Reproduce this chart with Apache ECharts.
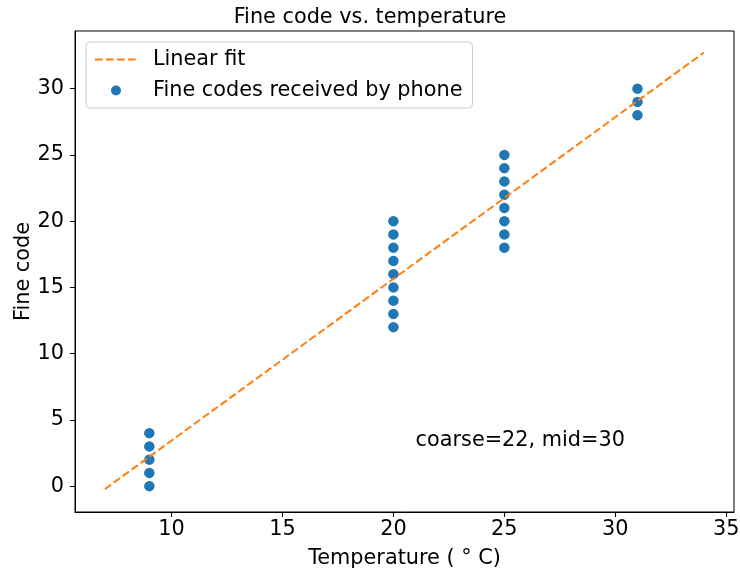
<!DOCTYPE html>
<html>
<head>
<meta charset="utf-8">
<script src="https://cdn.jsdelivr.net/npm/echarts@6/dist/echarts.min.js"></script>
<style>
html,body{margin:0;padding:0;background:#fff;}
#c{width:740px;height:569px;}
</style>
</head>
<body>
<div id="c"></div>
<script>
// Data
const temperatures = [9, 9, 9, 9, 9,
  20, 20, 20, 20, 20, 20, 20, 20, 20,
  25, 25, 25, 25, 25, 25, 25, 25,
  31, 31, 31];
const fineCodes = [0, 1, 2, 3, 4,
  12, 13, 14, 15, 16, 17, 18, 19, 20,
  18, 19, 20, 21, 22, 23, 24, 25,
  28, 29, 30];
const fitX = [7, 34];
const fitY = [-0.22, 32.73];
const xTicks = [10, 15, 20, 25, 30, 35];
const yTicks = [0, 5, 10, 15, 20, 25, 30];
const annotation = { x: 21, y: 3, text: 'coarse=22, mid=30' };

const FONT = 'DejaVu Sans';
const FS = 20.8;
const chart = echarts.init(document.getElementById('c'), null, { renderer: 'canvas' });

const scatterData = temperatures.map((t, i) => [t, fineCodes[i]]);
const fitData = fitX.map((x, i) => [x, fitY[i]]);
const dash = [7.7, 3.3];

chart.setOption({
  animation: false,
  backgroundColor: '#fff',
  textStyle: { fontFamily: FONT },
  title: {
    text: 'Fine code vs. temperature',
    left: 'center', top: 2,
    textStyle: { fontFamily: FONT, fontSize: FS, fontWeight: 'normal', color: '#000' }
  },
  grid: {
    left: 75, top: 31, right: 6, bottom: 57,
    containLabel: false, outerBoundsMode: 'none',
    show: true, borderColor: '#000', borderWidth: 1, backgroundColor: 'transparent'
  },
  legend: {
    orient: 'vertical',
    left: 86, top: 42,
    padding: [7, 10, 7, 8],
    itemWidth: 42, itemHeight: 10, itemGap: 10,
    borderColor: '#cccccc', borderWidth: 1, borderRadius: 4,
    backgroundColor: 'rgba(255,255,255,0.8)',
    textStyle: { fontFamily: FONT, fontSize: FS, lineHeight: 21, color: '#000', padding: [0, 0, 0, 11] },
    data: [
      { name: 'Linear fit', itemStyle: { opacity: 0 }, lineStyle: { color: '#ff7f0e', width: 2, type: dash } },
      { name: 'Fine codes received by phone', icon: 'circle' }
    ]
  },
  xAxis: {
    type: 'value', min: 5.65, max: 35.35,
    name: 'Temperature ( ° C)', nameLocation: 'middle', nameGap: 36, nameMoveOverlap: false,
    nameTextStyle: { fontFamily: FONT, fontSize: FS, color: '#000' },
    axisLine: { show: true, onZero: false, lineStyle: { color: '#000', width: 1 } },
    axisTick: { show: true, inside: false, length: 5, customValues: xTicks, lineStyle: { color: '#000' } },
    axisLabel: { customValues: xTicks, fontFamily: FONT, fontSize: FS, color: '#000', margin: 7 },
    splitLine: { show: false }
  },
  yAxis: {
    type: 'value', min: -1.95, max: 34.35,
    name: 'Fine code', nameLocation: 'middle', nameGap: 41, nameRotate: 90, nameMoveOverlap: false,
    nameTextStyle: { fontFamily: FONT, fontSize: FS, color: '#000' },
    axisLine: { show: true, onZero: false, lineStyle: { color: '#000', width: 1 } },
    axisTick: { show: true, inside: false, length: 5, customValues: yTicks, lineStyle: { color: '#000' } },
    axisLabel: { customValues: yTicks, fontFamily: FONT, fontSize: FS, color: '#000', margin: 11 },
    splitLine: { show: false }
  },
  series: [
    {
      name: 'Linear fit', type: 'line', data: fitData,
      symbol: 'none', z: 3,
      lineStyle: { color: '#ff7f0e', width: 2, type: dash },
      itemStyle: { color: '#ff7f0e' }
    },
    {
      name: 'Fine codes received by phone', type: 'scatter', data: scatterData,
      symbol: 'circle', symbolSize: 10.5, z: 2,
      itemStyle: { color: '#1f77b4', opacity: 1 }
    }
  ]
});

const p = chart.convertToPixel({ gridIndex: 0 }, [annotation.x, annotation.y]);
chart.setOption({
  graphic: [{
    type: 'text', x: p[0], y: p[1] + 5,
    style: { text: annotation.text, fontFamily: FONT, fontSize: FS, fill: '#000',
      textAlign: 'left', textVerticalAlign: 'bottom' }
  }]
});
</script>
</body>
</html>
